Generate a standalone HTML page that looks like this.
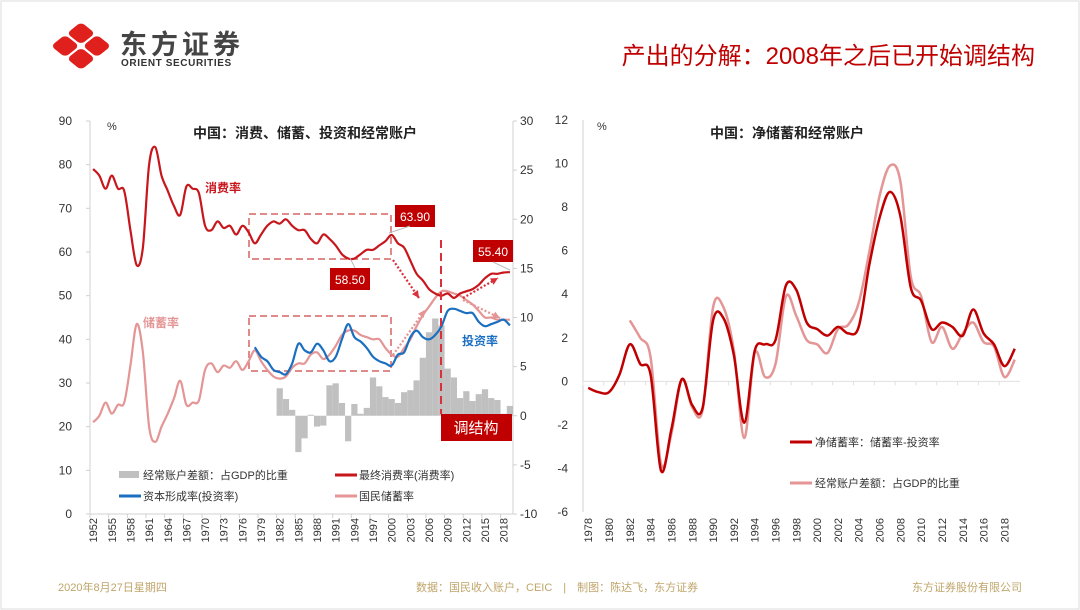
<!DOCTYPE html>
<html><head><meta charset="utf-8">
<style>
body{margin:0;background:#fff;}
#slide{position:relative;width:1080px;height:610px;overflow:hidden;background:#fff;font-family:"Liberation Sans","Noto Sans CJK SC",sans-serif;}
svg text{font-family:"Liberation Sans","Noto Sans CJK SC",sans-serif;}
</style></head>
<body>
<div id="slide">
<svg id="svg" width="1080" height="610" xmlns="http://www.w3.org/2000/svg">
  <rect x="1" y="1" width="1078" height="608" fill="none" stroke="#ddd"/>
  <g>
    <g transform="translate(81,46) scale(1.25,1) rotate(45)">
      <rect x="-17" y="-17" width="16" height="16" rx="4" fill="#e0201c"/>
      <rect x="1" y="-17" width="16" height="16" rx="4" fill="#e0201c"/>
      <rect x="-17" y="1" width="16" height="16" rx="4" fill="#e0201c"/>
      <rect x="1" y="1" width="16" height="16" rx="4" fill="#e0201c"/>
    </g>
    <text x="120" y="54" font-size="27" font-weight="bold" fill="#444" letter-spacing="4">东方证券</text>
    <text x="121" y="66" font-size="10" font-weight="bold" fill="#333" letter-spacing="0.6">ORIENT SECURITIES</text>
  </g>
  <text x="1035" y="64" font-size="24" fill="#c00000" text-anchor="end">产出的分解：2008年之后已开始调结构</text>
  <g id="left"></g>
  <g id="right"></g>
  <text x="58" y="591" font-size="11" fill="#bfa56a">2020年8月27日星期四</text>
  <text x="416" y="591" font-size="11" fill="#bfa56a">数据：国民收入账户，CEIC　|　制图：陈达飞，东方证券</text>
  <text x="1022" y="591" font-size="11" fill="#bfa56a" text-anchor="end">东方证券股份有限公司</text>
</svg>
</div>
<script>
// ===== Left chart data =====
const leftYears = Array.from({length:68},(_,i)=>1952+i);
const consumption = [79,77.5,74.5,77.5,74.5,74,65,57,61,80,84,77.5,74,70.5,68.5,75,74.5,73.5,66,65,67,65.5,66,64,66,64.5,62,64,66,67,66.5,67.5,66,65,65,63,62,64,63,61.5,59.5,58.5,58.5,59.5,60.5,60.5,61.5,62.5,63.9,62,61,58,55,53.5,51.5,50.5,50,50.5,49.5,50.5,51,51.5,52.5,54,55,55,55.3,55.4];
const savings = [21,22.5,25.5,23,25,25.5,34,43.5,37,20,16.5,20,23,26.5,30.5,25,25.5,26,33,34.5,32.5,34,33.5,35,33,35,37.5,35,33,31.5,31,31.5,33.5,34.5,34.5,36.5,37,35.5,36.5,38.5,41,42,42,41,40.5,40,40,38,36.5,36,38,40,43,45.5,47.5,49.5,51,51,50.5,50,49,48,46.5,45,45,44.5,44.5,44.5];
const investYears = Array.from({length:42},(_,i)=>1978+i);
const investment = [38.2,36,35,33,32.5,32,34.5,39,37.5,37,39,37.5,35,36,40,43.5,40.5,39.5,38,36,35,34.5,34,36.5,37,40.5,42,40.5,40,41,43,46.5,47,46.5,46,46,44,43,43.5,44,44.5,43.2];
const caYears = Array.from({length:38},(_,i)=>1982+i);
const currentAccount = [2.8,1.7,0.6,-3.7,-2.3,0.1,-1.1,-1.0,3.1,3.3,1.3,-2.6,1.2,0.2,0.8,3.9,3.0,1.9,1.7,1.3,2.4,2.6,3.6,5.9,8.5,9.9,9.2,4.8,3.9,1.8,2.5,1.5,2.2,2.7,1.8,1.6,0.2,1.0];
const leftTicks = [0,10,20,30,40,50,60,70,80,90];
const rightTicks = [-10,-5,0,5,10,15,20,25,30];
// ===== Right chart data =====
const rYears = Array.from({length:42},(_,i)=>1978+i);
const netSaving = [-0.3,-0.5,-0.5,0.3,1.7,0.8,0.3,-4.1,-2.2,0.1,-1.1,-1.2,2.8,2.9,1.2,-1.9,1.4,1.7,1.9,4.4,4.2,2.7,2.4,2.1,2.5,2.2,2.5,5.3,7.5,8.7,7.6,4.3,3.7,2.4,2.7,2.5,2.1,3.3,2.2,1.7,0.7,1.5];
const caRight = [null,null,null,null,2.8,2.0,1.1,-3.8,-2.4,0.1,-1.2,-1.3,3.4,3.4,1.4,-2.6,1.3,0.2,0.8,3.9,3.0,1.9,1.7,1.3,2.4,2.6,3.6,5.9,8.5,9.9,9.2,4.8,3.9,1.8,2.5,1.5,2.2,2.7,1.8,1.6,0.2,1.0];
const rTicks = [-6,-4,-2,0,2,4,6,8,10,12];

const NS='http://www.w3.org/2000/svg';
function mk(parent,tag,attrs,text){const e=document.createElementNS(NS,tag);for(const k in attrs)e.setAttribute(k,attrs[k]);if(text!==undefined)e.textContent=text;parent.appendChild(e);return e;}
function smooth(pts){
  if(pts.length<2)return '';
  let d='M'+pts[0][0].toFixed(1)+','+pts[0][1].toFixed(1);
  for(let i=0;i<pts.length-1;i++){
    const p0=pts[i-1]||pts[i],p1=pts[i],p2=pts[i+1],p3=pts[i+2]||p2;
    const c1=[p1[0]+(p2[0]-p0[0])/6,p1[1]+(p2[1]-p0[1])/6];
    const c2=[p2[0]-(p3[0]-p1[0])/6,p2[1]-(p3[1]-p1[1])/6];
    d+='C'+c1[0].toFixed(1)+','+c1[1].toFixed(1)+' '+c2[0].toFixed(1)+','+c2[1].toFixed(1)+' '+p2[0].toFixed(1)+','+p2[1].toFixed(1);
  }
  return d;
}

// ===== Left chart =====
const L=document.getElementById('left');
const lx0=90,lx1=513,ly0=514,ly1=121;
const lStep=(lx1-lx0)/leftYears.length;
const xL=yr=>lx0+(yr-1952+0.5)*lStep;
const yL=v=>ly0-(v/90)*(ly0-ly1);
const yR=v=>ly0-((v+10)/40)*(ly0-ly1);

let el;
el=mk(L,'line',{x1:lx0,y1:ly0,x2:lx0,y2:ly1,stroke:'#d0d0d0'});


el=mk(L,'line',{x1:lx1,y1:ly0,x2:lx1,y2:ly1,stroke:'#d0d0d0'});


el=mk(L,'line',{x1:lx0,y1:ly0,x2:lx1,y2:ly0,stroke:'#d0d0d0'});


leftTicks.forEach(t=>{
  el=mk(L,'text',{x:72,y:yL(t)+4,'font-size':12,fill:'#333','text-anchor':'end'},String(t));
  
  
  mk(L,'line',{x1:lx0-4,y1:yL(t),x2:lx0,y2:yL(t),stroke:'#d0d0d0'});
});
rightTicks.forEach(t=>{
  el=mk(L,'text',{x:520,y:yR(t)+4,'font-size':12,fill:'#333'},String(t));
  
  
  mk(L,'line',{x1:lx1,y1:yR(t),x2:lx1+4,y2:yR(t),stroke:'#d0d0d0'});
});
leftYears.forEach((yr,i)=>{
  if(i%3===0){
    mk(L,'line',{x1:lx0+i*lStep,y1:ly0,x2:lx0+i*lStep,y2:ly0+4,stroke:'#d0d0d0'});
    el=mk(L,'text',{x:0,y:0,'font-size':11,fill:'#333','text-anchor':'end',transform:`translate(${xL(yr)+4},${ly0+4}) rotate(-90)`},String(yr));
    
    
  }
});
el=mk(L,'text',{x:107,y:130,'font-size':11,fill:'#333'},'%');


el=mk(L,'text',{x:305,y:138,'font-size':14,'font-weight':'bold',fill:'#222','text-anchor':'middle'},'中国：消费、储蓄、投资和经常账户');



caYears.forEach((yr,i)=>{
  const v=currentAccount[i];
  const y0=yR(0),y1=yR(v);
  el=mk(L,'rect',{x:xL(yr)-lStep/2,y:Math.min(y0,y1),width:lStep,height:Math.abs(y1-y0),fill:'#c0c0c0'});
  
  
});
el=mk(L,'rect',{x:249,y:214,width:142,height:45,fill:'none',stroke:'#e08a8a','stroke-width':2,'stroke-dasharray':'7,4'});


el=mk(L,'rect',{x:249,y:316,width:142,height:55,fill:'none',stroke:'#e08a8a','stroke-width':2,'stroke-dasharray':'7,4'});


el=mk(L,'path',{d:smooth(leftYears.map((y,i)=>[xL(y),yL(savings[i])])),fill:'none',stroke:'#e49595','stroke-width':2.2});


el=mk(L,'path',{d:smooth(investYears.map((y,i)=>[xL(y),yL(investment[i])])),fill:'none',stroke:'#1a6fc0','stroke-width':2.2});


el=mk(L,'path',{d:smooth(leftYears.map((y,i)=>[xL(y),yL(consumption[i])])),fill:'none',stroke:'#c8161d','stroke-width':2.2});


el=mk(L,'line',{x1:441,y1:240,x2:441,y2:414,stroke:'#d9303a','stroke-width':2,'stroke-dasharray':'8,5'});


[[393,260,419,298,'#d9303a'],[393,355,425,310,'#e49595'],[463,298,498,278,'#d9303a'],[463,300,500,318,'#e49595']].forEach(a=>{
  el=mk(L,'line',{x1:a[0],y1:a[1],x2:a[2],y2:a[3],stroke:a[4],'stroke-width':2.2,'stroke-dasharray':'2,2'});
  
  
  const ang=Math.atan2(a[3]-a[1],a[2]-a[0]);
  const p=(r,d)=>[a[2]+d*Math.cos(ang+r),a[3]+d*Math.sin(ang+r)];
  const q1=p(Math.PI*0.85,8),q2=p(-Math.PI*0.85,8);
  mk(L,'polygon',{points:`${a[2]},${a[3]} ${q1[0]},${q1[1]} ${q2[0]},${q2[1]}`,fill:a[4]});
});
[[395,205,'63.90'],[330,268,'58.50'],[473,240,'55.40']].forEach(b=>{
  el=mk(L,'rect',{x:b[0],y:b[1],width:40,height:22,fill:'#c00000'});
  
  
  el=mk(L,'text',{x:b[0]+20,y:b[1]+16,'font-size':12,fill:'#fff','text-anchor':'middle'},b[2]);
  
  
});
mk(L,'line',{x1:389,y1:233,x2:410,y2:226,stroke:'#bbb'});
mk(L,'line',{x1:355,y1:268,x2:350,y2:258,stroke:'#bbb'});
mk(L,'line',{x1:493,y1:262,x2:510,y2:270,stroke:'#bbb'});
el=mk(L,'rect',{x:441,y:414,width:71,height:27,fill:'#c00000'});


el=mk(L,'text',{x:476,y:433,'font-size':15,fill:'#fff','text-anchor':'middle'},'调结构');


el=mk(L,'text',{x:205,y:192,'font-size':12,'font-weight':'bold',fill:'#c8161d'},'消费率');


el=mk(L,'text',{x:143,y:327,'font-size':12,'font-weight':'bold',fill:'#e49595'},'储蓄率');


el=mk(L,'text',{x:462,y:345,'font-size':12,'font-weight':'bold',fill:'#1a6fc0'},'投资率');


[[119,475,'rect','#c0c0c0','经常账户差额：占GDP的比重'],[335,475,'line','#c8161d','最终消费率(消费率)'],[119,496,'line','#1a6fc0','资本形成率(投资率)'],[335,496,'line','#e49595','国民储蓄率']].forEach(g=>{
  if(g[2]==='rect') mk(L,'rect',{x:g[0],y:g[1]-4,width:20,height:7,fill:g[3]});
  else mk(L,'line',{x1:g[0],y1:g[1],x2:g[0]+22,y2:g[1],stroke:g[3],'stroke-width':3});
  el=mk(L,'text',{x:g[0]+24,y:g[1]+4,'font-size':11,fill:'#333'},g[4]);
  
  
});

// ===== Right chart =====
const R=document.getElementById('right');
const rx0=583,rx1=1020,ry0=512,ry1=120;
const rStep=(rx1-rx0)/rYears.length;
const xR=yr=>rx0+(yr-1978+0.5)*rStep;
const yRR=v=>ry0-((v+6)/18)*(ry0-ry1);
el=mk(R,'line',{x1:rx0,y1:ry0,x2:rx0,y2:ry1,stroke:'#d0d0d0'});


el=mk(R,'line',{x1:rx0,y1:yRR(0),x2:rx1,y2:yRR(0),stroke:'#e0e0e0'});


rTicks.forEach(t=>{
  el=mk(R,'text',{x:568,y:yRR(t)+4,'font-size':12,fill:'#333','text-anchor':'end'},String(t));
  
  
});
rYears.forEach((yr,i)=>{
  if(i%2===0){
    mk(R,'line',{x1:rx0+i*rStep,y1:yRR(0),x2:rx0+i*rStep,y2:yRR(0)+4,stroke:'#e0e0e0'});
    el=mk(R,'text',{x:0,y:0,'font-size':11,fill:'#333','text-anchor':'end',transform:`translate(${xR(yr)+4},${ry0+6}) rotate(-90)`},String(yr));
    
    
  }
});
el=mk(R,'text',{x:597,y:130,'font-size':11,fill:'#333'},'%');


el=mk(R,'text',{x:787,y:138,'font-size':14,'font-weight':'bold',fill:'#222','text-anchor':'middle'},'中国：净储蓄和经常账户');


const caPts=[];rYears.forEach((y,i)=>{if(caRight[i]!==null)caPts.push([xR(y),yRR(caRight[i])]);});
el=mk(R,'path',{d:smooth(caPts),fill:'none',stroke:'#e49595','stroke-width':2.5});


el=mk(R,'path',{d:smooth(rYears.map((y,i)=>[xR(y),yRR(netSaving[i])])),fill:'none',stroke:'#c00000','stroke-width':2.5});


[[790,442,'#c00000','净储蓄率：储蓄率-投资率'],[790,483,'#e49595','经常账户差额：占GDP的比重']].forEach(g=>{
  mk(R,'line',{x1:g[0],y1:g[1],x2:g[0]+22,y2:g[1],stroke:g[2],'stroke-width':3});
  el=mk(R,'text',{x:g[0]+25,y:g[1]+4,'font-size':11,fill:'#333'},g[3]);
  
  
});
</script>
</body></html>
